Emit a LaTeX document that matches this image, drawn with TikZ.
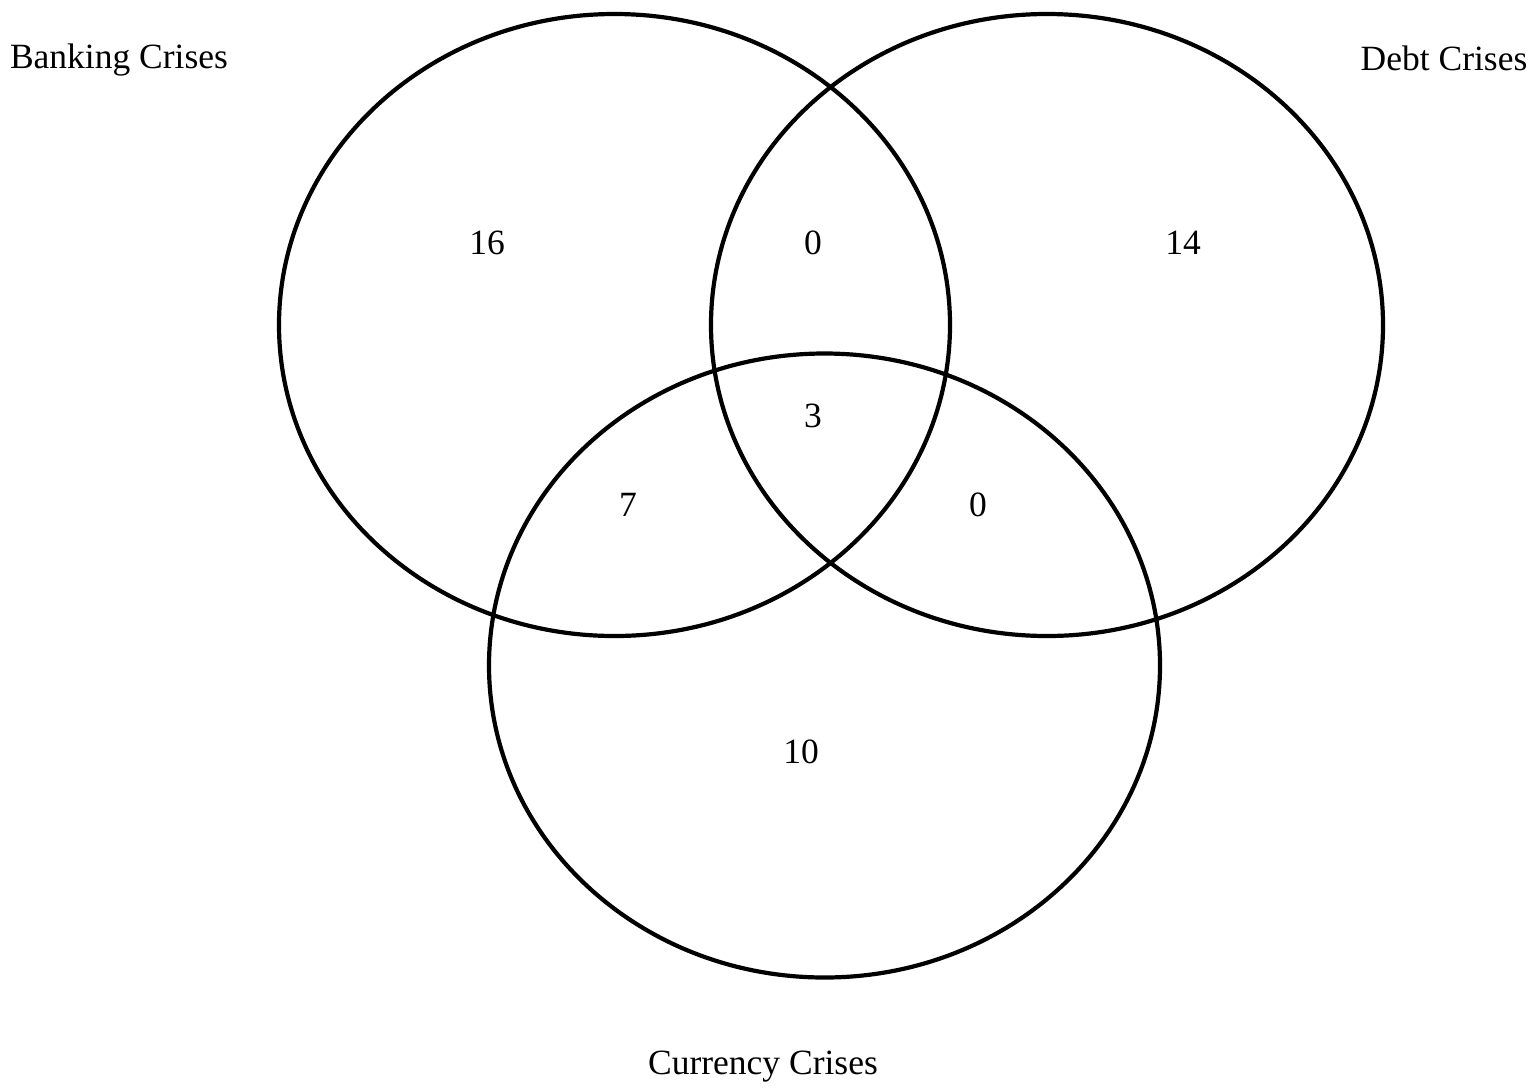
\documentclass[tikz,border=0pt]{standalone}
\usepackage{fontspec}
\setmainfont{Liberation Serif}
\begin{document}
\begin{tikzpicture}[x=1pt,y=1pt,
  set/.style={draw=black,line width=4.2pt},
  lbl/.style={font=\fontsize{35.5}{42}\selectfont,inner sep=0pt,anchor=center}]
\useasboundingbox (0,0) rectangle (1534,-1088);
\fill[white] (0,0) rectangle (1534,-1088);
\draw[set] (614.5,-325) ellipse [x radius=335.5, y radius=311];
\draw[set] (1047,-325) ellipse [x radius=336, y radius=311];
\draw[set] (824.5,-665.5) ellipse [x radius=335.5, y radius=312];
\node[lbl] (bank) at (119,-60) {Banking Crises};
\node[lbl] (debt) at (1444,-58) {Debt Crises};
\node[lbl] (curr) at (763,-1067) {Currency Crises};
\node[lbl] (b) at (487,-243) {16};
\node[lbl] (bd) at (813,-243) {0};
\node[lbl] (d) at (1183,-243) {14};
\node[lbl] (bdc) at (813,-416) {3};
\node[lbl] (bc) at (628,-505) {7};
\node[lbl] (dc) at (978,-505) {0};
\node[lbl] (c) at (801,-752) {10};
\end{tikzpicture}
\end{document}
